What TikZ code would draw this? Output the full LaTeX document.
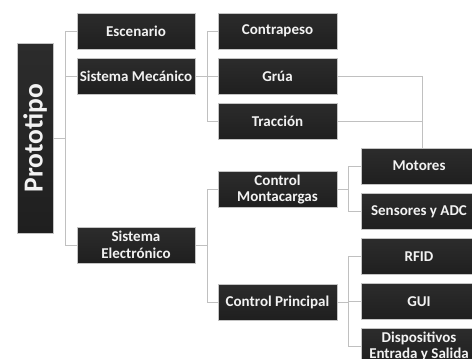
\documentclass[tikz,border=0pt]{standalone}
\usepackage{fontspec}
\setmainfont{Carlito}
\definecolor{boxfill}{HTML}{1F1F1F}
\definecolor{boxtop}{HTML}{2C2C2C}
\definecolor{boxline}{HTML}{C4C4C4}
\definecolor{conncol}{HTML}{C0C0C0}
\definecolor{txtcol}{HTML}{F2F2F2}
\begin{document}
\begin{tikzpicture}[x=1pt,y=-1pt,
  box/.style={draw=boxline, line width=0.9pt, top color=boxtop, bottom color=boxfill,
    text=txtcol, font=\fontsize{15}{16.5}\selectfont\bfseries, align=center,
    inner sep=0pt, minimum height=36pt},
  lvone/.style={box, minimum width=118pt},
  lvtwo/.style={box, minimum width=119pt},
  lvthree/.style={box, minimum width=116pt},
  conn/.style={draw=conncol, line width=1pt}]
\useasboundingbox (0,0) rectangle (472,359);
\clip (0,0) rectangle (472,359);
\fill[white] (0,0) rectangle (472,359);

% root
\node[box, minimum width=36pt, minimum height=190pt] (proto) at (35,138)
  {\rotatebox{90}{\fontsize{27.5}{30}\selectfont\bfseries Prototipo}};

% level 1
\node[lvone] (esc)  at (136,31)  {Escenario};
\node[lvone] (smec) at (136,76)  {Sistema Mecánico};
\node[lvone] (sele) at (136,245) {Sistema\\Electrónico};

% level 2
\node[lvtwo] (cpes) at (277.5,31)    {Contrapeso};
\node[lvtwo] (grua) at (277.5,76)    {Grúa};
\node[lvtwo] (trac) at (277.5,121)   {Tracción};
\node[lvtwo] (cmon) at (277.5,189.5) {Control\\Montacargas};
\node[lvtwo] (cpri) at (277.5,302)   {Control Principal};

% level 3
\node[lvthree] (mot)  at (419,166)   {Motores};
\node[lvthree] (sens) at (419,211.5) {Sensores y ADC};
\node[lvthree] (rfid) at (419,256.5) {RFID};
\node[lvthree] (gui)  at (419,301.5) {GUI};
\node[lvthree] (disp) at (419,346.5) {Dispositivos\\Entrada y Salida};

% bus coordinates
\coordinate (b1) at (65,0);
\coordinate (b2) at (207,0);
\coordinate (b3) at (348,0);
\coordinate (b4) at (422,0);

% connectors
\draw[conn] (proto.east) -- (proto.east -| b1);
\draw[conn] (esc.west) -- (esc.west -| b1) -- (b1 |- sele.west) -- (sele.west);
\draw[conn] (smec.west) -- (smec.west -| b1);

\draw[conn] (smec.east) -- (smec.east -| b2);
\draw[conn] (cpes.west) -- (cpes.west -| b2) -- (b2 |- trac.west) -- (trac.west);
\draw[conn] (grua.west) -- (grua.west -| b2);

\draw[conn] (sele.east) -- (sele.east -| b2);
\draw[conn] (cmon.west) -- (cmon.west -| b2) -- (b2 |- cpri.west) -- (cpri.west);

\draw[conn] (grua.east) -- (grua.east -| b4) -- (b4 |- mot.north);
\draw[conn] (trac.east) -- (trac.east -| b4);

\draw[conn] (cmon.east) -- (cmon.east -| b3);
\draw[conn] (mot.west) -- (mot.west -| b3) -- (b3 |- sens.west) -- (sens.west);

\draw[conn] (cpri.east) -- (cpri.east -| b3);
\draw[conn] (rfid.west) -- (rfid.west -| b3) -- (b3 |- disp.west) -- (disp.west);
\draw[conn] (gui.west) -- (gui.west -| b3);
\end{tikzpicture}
\end{document}
